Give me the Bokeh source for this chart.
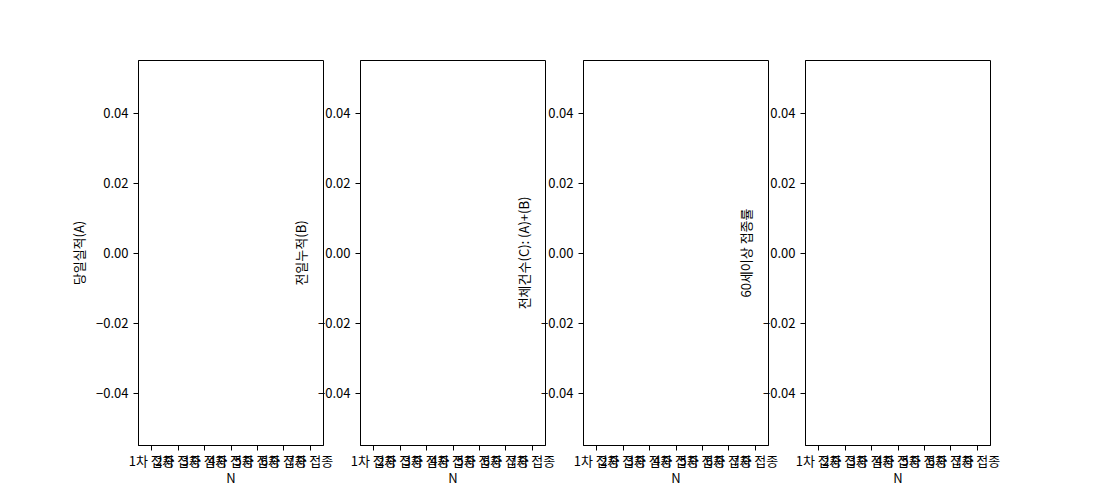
from bokeh.plotting import figure
from bokeh.layouts import row
from bokeh.models import FixedTicker, CustomJSTickFormatter, Range1d, FactorRange
from bokeh.embed import file_html
from bokeh.resources import INLINE

# ---- data (all panels are empty in the reference) ----
categories = ["1차 접종", "2차 접종", "3차 접종", "4차 접종", "5차 접종", "6차 접종", "7차 접종"]
y_labels = ["당일실적(A)", "전일누적(B)", "전체건수(C): (A)+(B)", "60세이상 접종률"]
x_label = "N"
y_ticks = [-0.04, -0.02, 0.0, 0.02, 0.04]
y_min, y_max = -0.055, 0.055

FONT = "Noto Sans CJK KR"
FS = "13px"
margins_left = [38, -113, -112, -113]

figs = []
for i, yl in enumerate(y_labels):
    p = figure(x_range=FactorRange(*categories), y_range=Range1d(y_min, y_max),
               frame_width=185, frame_height=385,
               min_border_left=100, min_border_right=50,
               min_border_top=60, min_border_bottom=55,
               output_backend="svg", toolbar_location=None,
               margin=(0, 0, 0, margins_left[i]))
    p.border_fill_color = None
    p.background_fill_color = "white"
    p.outline_line_color = "black"
    p.outline_line_width = 1
    p.xgrid.visible = False
    p.ygrid.visible = False
    p.yaxis.ticker = FixedTicker(ticks=y_ticks)
    p.yaxis.formatter = CustomJSTickFormatter(
        code="return (tick < 0 ? '\u2212' : '') + Math.abs(tick).toFixed(2);")
    for ax in (p.xaxis[0], p.yaxis[0]):
        ax.axis_line_color = "black"
        ax.major_tick_line_color = "black"
        ax.major_tick_out = 5
        ax.major_tick_in = 0
        ax.minor_tick_line_color = None
        ax.major_label_standoff = 5
        ax.major_label_text_font = FONT
        ax.major_label_text_font_size = FS
        ax.major_label_text_color = "black"
        ax.axis_label_text_font = FONT
        ax.axis_label_text_font_size = FS
        ax.axis_label_text_font_style = "normal"
        ax.axis_label_text_color = "black"
        ax.axis_label_standoff = 5
    p.xaxis.major_label_orientation = "horizontal"
    p.xaxis.major_label_standoff = 0
    p.xaxis.axis_label_standoff = -5
    p.xaxis.axis_label = x_label
    p.yaxis.axis_label = yl
    figs.append(p)

layout = row(*figs)
open("out.html", "w").write(file_html(layout, INLINE))
